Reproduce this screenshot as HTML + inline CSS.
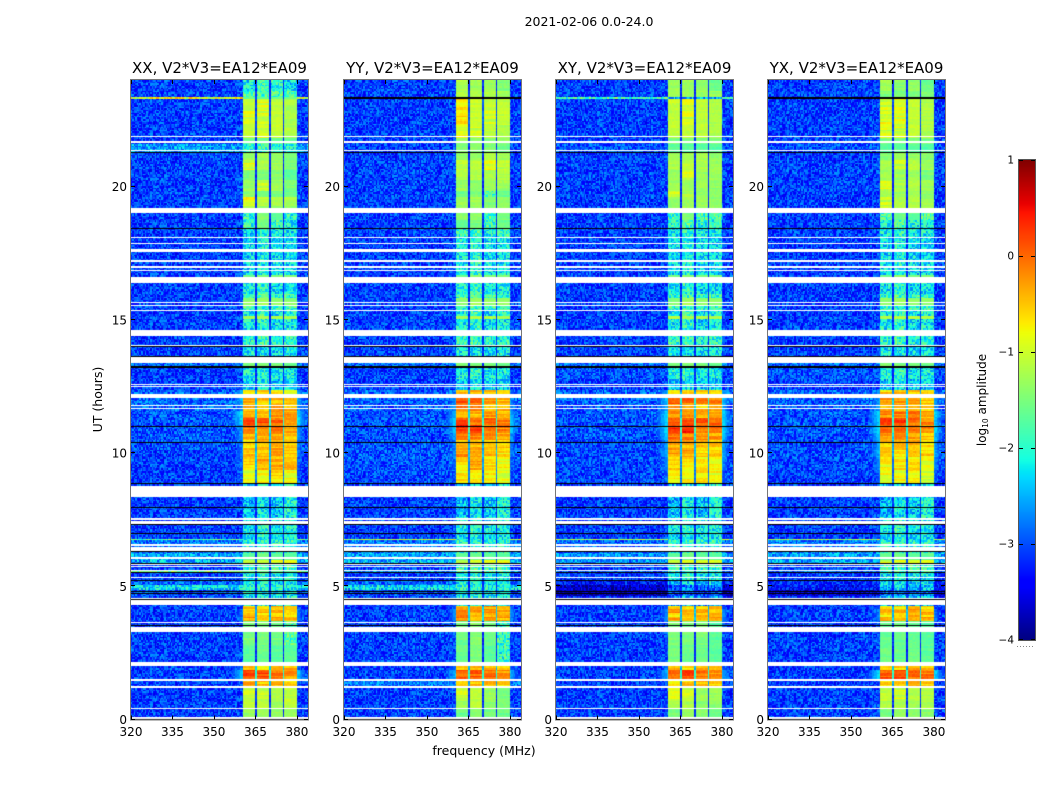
<!DOCTYPE html>
<html lang="en">
<head>
<meta charset="utf-8">
<title>2021-02-06 0.0-24.0</title>
<style>
html,body{margin:0;padding:0;background:#fff;width:1050px;height:800px;overflow:hidden}
#figure{position:relative;width:1050px;height:800px;background:#fff}
canvas{position:absolute;display:block}
svg{position:absolute;left:0;top:0}
text{font-family:"DejaVu Sans","Liberation Sans",sans-serif;fill:#000}
</style>
</head>
<body>
<div id="figure">
<canvas id="cv0" width="177" height="640" style="left:131px;top:80px"></canvas>
<canvas id="cv1" width="177" height="640" style="left:344px;top:80px"></canvas>
<canvas id="cv2" width="177" height="640" style="left:556px;top:80px"></canvas>
<canvas id="cv3" width="177" height="640" style="left:768px;top:80px"></canvas>
<canvas id="cbar" width="16" height="480" style="left:1019px;top:160px"></canvas>
<svg id="overlay" width="1050" height="800" viewBox="0 0 1050 800">
<text x="589" y="26" text-anchor="middle" font-size="12.5">2021-02-06 0.0-24.0</text>
<text x="484" y="755" text-anchor="middle" font-size="12.5">frequency (MHz)</text>
<text transform="translate(102,399.5) rotate(-90)" text-anchor="middle" font-size="12.5">UT (hours)</text>
<text transform="translate(986,400) rotate(-90)" text-anchor="middle" font-size="12">log<tspan font-size="7.5" dy="2">10</tspan><tspan dy="-2"> amplitude</tspan></text>
</svg>
</div>
<script>
const panelNames = ["XX", "YY", "XY", "YX"];
const panelTitleSuffix = ", V2*V3=EA12*EA09";
const xTicks = [320, 335, 350, 365, 380];
const yTicks = [0, 5, 10, 15, 20];
const colorTicks = [1, 0, -1, -2, -3, -4];
const freqRange = [320, 384];
const hourRange = [0, 24];
const colorRange = [-4, 1];
const bandEdges = [360.5, 365, 370.5, 375.5, 380];
const notchFreqs = [365.25, 370.25, 375.25];
const notchDepth = 2;

const hourEdges = [0,.43,.73,1.18,1.52,1.86,2.16,2.8,3.32,3.66,3.85,4,4.15,4.3,4.63,4.86,5.01,5.23,5.53,5.64,5.87,5.98,6.25,6.47,6.74,6.8,7.07,7.34,7.6,7.94,8.31,8.84,9.36,9.81,10.15,10.45,10.79,11.05,11.31,11.61,11.84,12.1,12.36,12.74,13.23,13.42,13.64,14.05,14.39,14.61,15.07,15.14,15.33,15.59,15.82,16,16.42,16.68,17.17,17.62,18.07,18.44,18.74,19.01,19.23,19.61,19.87,20.24,20.62,21,21.3,21.6,21.86,22.31,22.8,23.28,23.37,23.57,23.61,24];

const flaggedHours = [[.03,.105],[.41,.45],[1.19,1.27],[1.43,1.51],[2.02,2.17],[3.29,3.48],[3.62,3.65],[4.32,4.5],[4.52,4.56],[5.31,5.35],[5.57,5.61],[5.72,5.76],[5.8,5.83],[6.02,6.11],[6.32,6.46],[6.52,6.59],[7.34,7.46],[7.51,7.58],[8.35,8.77],[11.66,11.7],[11.75,11.79],[12.06,12.21],[12.47,12.5],[12.55,12.59],[13.39,13.61],[14.02,14.05],[14.39,14.62],[15.34,15.38],[15.52,15.57],[15.65,15.68],[16.41,16.62],[16.83,16.87],[16.96,17.02],[17.17,17.24],[17.54,17.65],[17.84,17.88],[18.07,18.11],[19.01,19.2],[21.35,21.39],[21.65,21.71],[21.84,21.88]];
const blankedHours = [[0,.03],[3.51,3.55],[4.5,4.52],[4.73,4.76],[4.79,4.82],[5.18,5.23],[5.52,5.55],[5.85,5.88],[6.28,6.32],[6.96,7],[7.3,7.34],[7.94,7.99],[8.84,8.87],[10.38,10.41],[10.98,11.01],[13.19,13.26],[13.61,13.66],[13.97,14.02],[18.41,18.44],[21.26,21.3]];

const xxLevels = [
[-3.1,-3.1,-1.3,-1.3,-1.35,-1.3],[-3.1,-3.1,-1.1,-1.1,-1.3,-1.1],[-3.1,-3.1,-1,-1,-1.2,-1.1],[-3.1,-3,-.4,-.5,-.4,-.6],
[-3.1,-2.3,.12,.12,-.05,-.25],[-3.1,-2.8,-.4,-.6,-.35,-.4],[-3.1,-3.1,-1.7,-1.6,-1.7,-1.7],[-3.1,-3.1,-1.5,-1.5,-1.6,-1.8],
[-3.1,-3.1,-1.5,-1.5,-1.6,-1.8],[-3.1,-2.6,-.3,-.5,-.4,-.35],[-3.1,-2.7,-.5,-.6,-.5,-.6],[-3.1,-2.7,-.6,-.5,-.4,-.5],
[-3.1,-3,-.5,-.6,-.45,-.6],[-3.1,-3.1,-2.2,-2,-2.2,-2.1],[-3,-3,-2.2,-2.1,-2.2,-2.2],[-2.3,-2.3,-2,-2,-2.1,-2.1],
[-2.9,-2.9,-2.2,-2.1,-2.2,-2.1],[-3.1,-3.1,-2.2,-2,-2.2,-2.1],[-1.5,-1.5,-1.6,-1.5,-1.6,-1.6],[-3.1,-3.1,-1.9,-1.8,-1.9,-1.9],
[-2.5,-2.5,-.95,-.9,-.95,-.95],[-2.6,-2.6,-1.7,-1.6,-1.7,-1.7],[-2.8,-2.8,-2,-1.9,-2,-2],[-2.8,-2.8,-2,-1.9,-2,-2],
[-1.7,-1.7,-2.2,-2,-2.2,-2.2],[-3.1,-3.1,-2.3,-2.1,-2.3,-2.2],[-3.1,-3.1,-2.2,-2,-2.2,-2.1],[-3.1,-3.1,-2.2,-2,-2.2,-2.1],
[-3.1,-3.1,-2.5,-2.2,-2.4,-2.1],[-3.1,-3.1,-2.5,-2.2,-2.4,-2.1],[-3.1,-3.1,-2.5,-2.2,-2.4,-2.1],[-3.1,-2.9,-.9,-.75,-.65,-.85],
[-3.1,-2.8,-.55,-.4,-.35,-.45],[-3.1,-2.6,-.5,-.45,-.35,-.5],[-3,-2.7,-.6,-.5,-.4,-.5],[-3,-2.5,-.35,-.4,-.35,-.5],
[-3,-2.5,-.1,-.15,-.1,-.3],[-3,-2.2,.2,.1,.05,-.2],[-3,-2.2,-.25,-.4,-.3,-.35],[-2.9,-2.6,-.4,-.45,-.35,-.4],
[-2.9,-2.4,-.45,-.5,-.45,-.55],[-2.9,-2.4,-.6,-.6,-.6,-.7],[-3.1,-3.1,-2.4,-2.2,-2.4,-2.3],[-3.1,-3.1,-2.1,-2,-2.2,-2.2],
[-2.9,-2.9,-1.5,-1.5,-1.5,-1.6],[-3.1,-3.1,-1.5,-1.5,-1.5,-1.6],[-3.1,-3.1,-2.2,-2.2,-2.3,-2.2],[-3.1,-3.1,-2,-1.9,-2.1,-2],
[-3.1,-3.1,-2,-1.9,-2.1,-2],[-3.1,-3.1,-2.2,-2,-2.3,-2.2],[-3.1,-3.1,-1.2,-1.2,-1.2,-1.2],[-3.1,-3.1,-2.3,-1.9,-2.3,-2.1],
[-3.1,-3.1,-1.9,-1.9,-1.9,-1.9],[-3.1,-3.1,-1.4,-1.3,-1.4,-1.4],[-3.1,-3.1,-1.9,-1.8,-1.9,-1.9],[-3.1,-3.1,-2.2,-2,-2.3,-2.2],
[-3.1,-3.1,-1.5,-1.4,-1.5,-1.5],[-3.1,-3.1,-2.3,-2.1,-2.3,-2.3],[-3.1,-3.1,-2.3,-2.1,-2.3,-2.3],[-3.1,-3.1,-2.3,-2.1,-2.3,-2.3],
[-3.1,-3.1,-2.3,-2,-2.2,-2.2],[-3.1,-3.1,-2,-1.5,-1.9,-2.2],[-3.1,-3.1,-2,-1.4,-1.7,-2],[-3.1,-3.1,-1.3,-1.3,-1.4,-1.4],
[-3.1,-3.1,-.85,-1.15,-1.2,-1.2],[-3.1,-3.1,-1.4,-1.5,-1.5,-1.6],[-3.1,-3.1,-1.3,-1,-1.3,-1.5],[-3.1,-3.1,-1.5,-1.5,-1.4,-1.7],
[-3.1,-3.1,-.95,-1.2,-1.3,-1.5],[-3.1,-3.1,-1.3,-1.3,-1.4,-1.5],[-2.6,-2.6,-2,-1.9,-2,-2.1],[-3.1,-3.1,-1.6,-1.6,-1.6,-1.6],
[-3.1,-3.1,-1.05,-.95,-1.05,-1.2],[-3.1,-3.1,-.95,-.95,-1.05,-1.2],[-3.1,-3.1,-1.1,-.95,-1.1,-1.2],[-.9,-.9,-1.6,-1.6,-1.6,-1.6],
[-3.1,-3.1,-1.8,-1.8,-1.8,-1.8],[-1.7,-1.7,-2.2,-2.2,-2.2,-2.2],[-3.1,-3.1,-2.2,-1.8,-2,-2.3]
];

const yyLevels = [
[-3.1,-3.1,-1.6,-1.4,-1.5,-1.6],[-3.1,-3.1,-1.3,-1.1,-1.4,-1.5],[-3.1,-3.1,-1,-1.1,-1.3,-1.5],[-2.8,-2.8,-.5,-.5,-.5,-.6],
[-3.1,-2.4,0,0,-.1,-.25],[-3.1,-2.8,-.5,-.4,-.4,-.5],[-3.1,-3.1,-1.6,-1.5,-1.7,-2],[-3.1,-3.1,-1.6,-1.4,-1.6,-1.9],
[-3.1,-3.1,-1.6,-1.4,-1.6,-1.9],[-3.1,-2.6,-.15,-.45,-.3,-.4],[-3.1,-2.6,-.3,-.4,-.3,-.5],[-3.1,-2.6,-.25,-.3,-.2,-.4],
[-3.1,-2.8,-.3,-.4,-.3,-.5],[-3.1,-3.1,-2.2,-2,-2.2,-2.1],[-3,-3,-2.2,-2.1,-2.2,-2.2],[-2.3,-2.3,-2,-2,-2.1,-2.1],
[-2.9,-2.9,-2.2,-2.1,-2.2,-2.1],[-3.1,-3.1,-2.2,-2,-2.2,-2.1],[-2.6,-2.6,-1.8,-1.7,-1.8,-1.8],[-3.1,-3.1,-1.9,-1.8,-1.9,-1.9],
[-2.5,-2.5,-.95,-.9,-.95,-.95],[-2.6,-2.6,-1.7,-1.6,-1.7,-1.7],[-2.8,-2.8,-2,-1.9,-2,-2],[-2.8,-2.8,-2,-1.9,-2,-2],
[-1.1,-1.1,-2.2,-2,-2.2,-2.2],[-3.1,-3.1,-2.3,-2.1,-2.3,-2.2],[-3.1,-3.1,-2.2,-2,-2.2,-2.1],[-3.1,-3.1,-2.2,-2,-2.2,-2.1],
[-3.1,-3.1,-2.5,-2.2,-2.4,-2.1],[-3.1,-3.1,-2.5,-2.2,-2.4,-2.1],[-3.1,-3.1,-2.5,-2.2,-2.4,-2.1],[-3.05,-2.9,-.7,-.8,-.75,-.9],
[-3,-2.8,-.6,-.35,-.65,-.85],[-3,-2.6,-.25,-.3,-.5,-.7],[-3,-2.7,-.5,-.35,-.6,-.6],[-3,-2.5,-.2,-.1,-.3,-.4],
[-3,-2.3,.25,.3,-.1,-.2],[-3,-2.3,.1,-.1,.05,-.15],[-3,-2.4,-.3,-.45,-.35,-.5],[-3,-2.6,-.1,-.2,-.4,-.4],
[-2.9,-2.6,.05,-.1,-.3,-.45],[-2.9,-2.7,-.5,-.5,-.6,-.7],[-3.1,-3.1,-2.4,-2.2,-2.4,-2.3],[-3.1,-3.1,-2.1,-2,-2.2,-2.2],
[-2.9,-2.9,-1.5,-1.5,-1.5,-1.6],[-3.1,-3.1,-1.5,-1.5,-1.5,-1.6],[-3.1,-3.1,-2.2,-2.2,-2.3,-2.2],[-3.1,-3.1,-2,-1.9,-2.1,-2],
[-3.1,-3.1,-2,-1.9,-2.1,-2],[-3.1,-3.1,-2.2,-2,-2.3,-2.2],[-3.1,-3.1,-1.2,-1.2,-1.2,-1.2],[-3.1,-3.1,-2.2,-1.9,-2.3,-2.1],
[-3.1,-3.1,-1.9,-1.9,-1.9,-1.9],[-3.1,-3.1,-1.4,-1.3,-1.4,-1.4],[-3.1,-3.1,-1.9,-1.8,-1.9,-1.9],[-3.1,-3.1,-2.1,-1.9,-2.2,-2.1],
[-3.1,-3.1,-1.5,-1.4,-1.5,-1.5],[-3.1,-3.1,-2.2,-2,-2.3,-2.2],[-3.1,-3.1,-2.2,-2,-2.3,-2.2],[-3.1,-3.1,-2.2,-2,-2.3,-2.2],
[-3.1,-3.1,-2,-1.9,-2.1,-2],[-3.1,-3.1,-1.6,-1.5,-1.9,-1.6],[-3.1,-3.1,-1.4,-1.4,-1.8,-1.5],[-3.1,-3.1,-1.3,-1.3,-1.5,-1.4],
[-3.1,-3.1,-1.3,-1.3,-1.5,-1.4],[-3.1,-3.1,-1.6,-1.5,-1.8,-1.6],[-3.1,-3.1,-1.3,-1.4,-1.3,-1.3],[-3.1,-3.1,-1.2,-1.2,-1.2,-1.2],
[-3.1,-3.1,-1.1,-1.1,-.95,-1.1],[-3.1,-3.1,-1.4,-1.3,-1.2,-1.3],[-3.1,-3.1,-1.5,-1.4,-1.5,-1.6],[-3.1,-3.1,-1.4,-1.4,-1.4,-1.4],
[-3.1,-3.1,-.85,-1,-1.1,-1.2],[-3.1,-3.1,-.65,-1.05,-1,-1.05],[-3.1,-3.1,-.7,-1.05,-1.1,-1.1],[-4.6,-4.6,-4.6,-4.6,-4.6,-4.6],
[-3.1,-3.1,-1.2,-1.2,-1.2,-1.2],[-4.6,-4.6,-4.6,-4.6,-4.6,-4.6],[-3.1,-3.1,-1.2,-1.3,-1.3,-1.5]
];

const xyLevels = [
[-3.1,-3.1,-1.5,-1.3,-1.4,-1.6],[-3.1,-3.1,-1.2,-1.2,-1.4,-1.4],[-3.1,-3.1,-1,-1,-1.3,-1.3],[-3.1,-3,-.6,-.6,-.5,-.6],
[-3.1,-2.4,.1,.1,-.15,-.25],[-3.1,-2.8,-.5,-.55,-.4,-.5],[-3.1,-3.1,-1.5,-1.6,-1.6,-1.7],[-3.1,-3.1,-1.5,-1.5,-1.5,-1.7],
[-3.1,-3.1,-1.5,-1.5,-1.5,-1.7],[-3.1,-2.6,-.3,-.4,-.4,-.4],[-3.1,-2.6,-.6,-.5,-.4,-.45],[-3.1,-2.6,-.15,-.5,-.4,-.45],
[-3.1,-2.8,-.6,-.55,-.5,-.5],[-3.2,-3.2,-2.7,-2.5,-2.7,-2.6],[-3.8,-3.8,-3,-2.9,-3,-3],[-3.7,-3.7,-3,-2.8,-3,-2.9],
[-3.3,-3.3,-2.4,-2.2,-2.4,-2.3],[-3.1,-3.1,-2.2,-2,-2.2,-2.1],[-2.9,-2.9,-1.9,-1.8,-1.9,-1.9],[-3.1,-3.1,-1.9,-1.8,-1.9,-1.9],
[-2.7,-2.7,-.95,-.9,-.95,-.95],[-2.7,-2.7,-1.7,-1.6,-1.7,-1.7],[-2.9,-2.9,-2,-1.9,-2,-2],[-2.9,-2.9,-2,-1.9,-2,-2],
[-1.3,-1.3,-2.2,-2,-2.2,-2.2],[-3.1,-3.1,-2.3,-2.1,-2.3,-2.2],[-3.1,-3.1,-2.2,-2,-2.2,-2.1],[-3.1,-3.1,-2.2,-2,-2.2,-2.1],
[-3.1,-3.1,-2.5,-2.2,-2.4,-2.1],[-3.1,-3.1,-2.5,-2.2,-2.4,-2.1],[-3.1,-3.1,-2.5,-2.2,-2.4,-2.1],[-3.05,-2.8,-.8,-.85,-.7,-.85],
[-3.05,-2.6,-.6,-.7,-.7,-.8],[-3.05,-2.4,-.3,-.3,-.5,-.6],[-3.05,-2.5,-.4,-.4,-.55,-.55],[-3,-2.3,-.1,-.15,-.3,-.3],
[-3,-2.2,.3,.35,-.05,-.1],[-3,-2.2,.1,.05,.1,.05],[-3,-2.2,-.3,-.2,-.4,-.4],[-3,-2.4,-.35,-.4,-.5,-.5],
[-2.9,-2.3,.05,-.1,-.15,-.15],[-2.9,-2.4,-.5,-.5,-.6,-.7],[-3.1,-3.1,-2.4,-2.2,-2.4,-2.3],[-3,-3,-2.1,-2,-2.2,-2.2],
[-2.9,-2.9,-1.5,-1.5,-1.5,-1.6],[-3.1,-3.1,-1.5,-1.5,-1.5,-1.6],[-3.1,-3.1,-2.2,-2.2,-2.3,-2.2],[-3.1,-3.1,-2,-1.9,-2.1,-2],
[-3.1,-3.1,-2,-1.9,-2.1,-2],[-3.1,-3.1,-2.2,-2,-2.3,-2.2],[-3.1,-3.1,-1.2,-1.2,-1.2,-1.2],[-3.1,-3.1,-2.3,-1.9,-2.3,-2.1],
[-3.1,-3.1,-1.9,-1.9,-1.9,-1.9],[-3.1,-3.1,-1.4,-1.3,-1.4,-1.4],[-3.1,-3.1,-1.9,-1.8,-1.9,-1.9],[-3.1,-3.1,-2.2,-2,-2.3,-2.2],
[-3.1,-3.1,-1.5,-1.4,-1.5,-1.5],[-3.1,-3.1,-2.3,-2.1,-2.3,-2.3],[-3.1,-3.1,-2.3,-2.1,-2.3,-2.3],[-3.1,-3.1,-2.3,-2.1,-2.3,-2.3],
[-3.1,-3.1,-2.2,-2,-2.2,-2.2],[-3.1,-3.1,-2,-1.8,-2,-2],[-3.1,-3.1,-1.9,-1.5,-1.8,-1.8],[-3.1,-3.1,-1.3,-1.3,-1.3,-1.4],
[-3.1,-3.1,-1.3,-1.3,-1.3,-1.4],[-3.1,-3.1,-1,-1.2,-1.4,-1.4],[-3.1,-3.1,-1.3,-1.3,-1.3,-1.4],[-3.1,-3.1,-1.3,-1,-1.3,-1.3],
[-3.1,-3.1,-1.2,-1.1,-1.2,-1.3],[-3.1,-3.1,-1.3,-1.3,-1.3,-1.4],[-3,-3,-1.7,-1.7,-1.7,-1.7],[-3.1,-3.1,-1.5,-1.5,-1.5,-1.5],
[-3.1,-3.1,-1.1,-1.05,-1.1,-1.2],[-3.1,-3.1,-1.1,-1,-1.1,-1.2],[-3.1,-3.1,-.9,-1,-1.1,-1.2],[-1.8,-1.8,-2.6,-2.6,-2.6,-2.6],
[-3.1,-3.1,-1.3,-1.3,-1.3,-1.3],[-3.2,-3.2,-2.8,-2.8,-2.8,-2.8],[-3.1,-3.1,-1.3,-1.3,-1.4,-1.6]
];

const yxLevels = [
[-3.1,-3.1,-1.5,-1.3,-1.4,-1.4],[-3.1,-3.1,-1.2,-1.2,-1.3,-1.2],[-3.1,-3.1,-1.1,-1,-1.2,-1.2],[-3.1,-3,-.5,-.5,-.5,-.6],
[-3.1,-2.2,.12,.1,-.1,-.1],[-3.1,-2.8,-.5,-.6,-.4,-.5],[-3.1,-3.1,-1.6,-1.6,-1.6,-1.7],[-3.1,-3.1,-1.6,-1.6,-1.6,-1.7],
[-3.1,-3.1,-1.6,-1.6,-1.6,-1.7],[-3.1,-2.7,-.2,-.4,-.4,-.4],[-3.1,-2.7,-.7,-.5,-.3,-.5],[-3.1,-2.7,-.55,-.45,-.35,-.45],
[-3.1,-2.9,-.6,-.6,-.5,-.6],[-3.2,-3.2,-2.5,-2.3,-2.5,-2.4],[-3.6,-3.6,-2.8,-2.6,-2.8,-2.8],[-3.3,-3.3,-2.5,-2.3,-2.5,-2.4],
[-3.2,-3.2,-2.3,-2.2,-2.3,-2.3],[-3.1,-3.1,-2.2,-2,-2.2,-2.1],[-2.8,-2.8,-1.9,-1.8,-1.9,-1.9],[-3.1,-3.1,-1.9,-1.8,-1.9,-1.9],
[-2.6,-2.6,-.95,-.9,-.95,-.95],[-2.6,-2.6,-1.7,-1.6,-1.7,-1.7],[-2.8,-2.8,-2,-1.9,-2,-2],[-2.8,-2.8,-2,-1.9,-2,-2],
[-1.2,-1.2,-2.2,-2,-2.2,-2.2],[-3.1,-3.1,-2.3,-2.1,-2.3,-2.2],[-3.1,-3.1,-2.2,-2,-2.2,-2.1],[-3.1,-3.1,-2.2,-2,-2.2,-2.1],
[-3.1,-3.1,-2.5,-2.2,-2.4,-2.1],[-3.1,-3.1,-2.5,-2.2,-2.4,-2.1],[-3.1,-3.1,-2.5,-2.2,-2.4,-2.1],[-3.1,-2.8,-.9,-.85,-.8,-1],
[-3.05,-2.6,-.8,-.7,-.7,-.9],[-3.05,-2.4,-.4,-.55,-.5,-.6],[-3.05,-2.5,-.5,-.5,-.4,-.6],[-3,-2.3,-.2,-.25,-.3,-.45],
[-3,-2.2,.1,.1,-.1,-.2],[-3,-2.3,.1,.2,-.05,-.2],[-3,-2.2,-.2,-.15,-.2,-.4],[-3,-2.5,-.35,-.35,-.45,-.5],
[-2.9,-2.5,-.2,-.3,-.35,-.5],[-2.9,-2.6,-.5,-.5,-.6,-.7],[-3.1,-3.1,-2.4,-2.2,-2.4,-2.3],[-3,-3,-2.1,-2,-2.2,-2.2],
[-2.9,-2.9,-1.5,-1.5,-1.5,-1.6],[-3.1,-3.1,-1.5,-1.5,-1.5,-1.6],[-3.1,-3.1,-2.2,-2.2,-2.3,-2.2],[-3.1,-3.1,-2,-1.9,-2.1,-2],
[-3.1,-3.1,-2,-1.9,-2.1,-2],[-3.1,-3.1,-2.2,-2,-2.3,-2.2],[-3.1,-3.1,-1.2,-1.2,-1.2,-1.2],[-3.1,-3.1,-2.2,-1.9,-2.3,-2.1],
[-3.1,-3.1,-1.9,-1.9,-1.9,-1.9],[-3.1,-3.1,-1.4,-1.3,-1.4,-1.4],[-3.1,-3.1,-1.9,-1.8,-1.9,-1.9],[-3.1,-3.1,-2.2,-2,-2.3,-2.2],
[-3.1,-3.1,-1.5,-1.4,-1.5,-1.5],[-3.1,-3.1,-2.3,-2.1,-2.3,-2.3],[-3.1,-3.1,-2.3,-2.1,-2.3,-2.3],[-3.1,-3.1,-2.3,-2.1,-2.3,-2.3],
[-3.1,-3.1,-2.2,-2,-2.2,-2.2],[-3.1,-3.1,-2.1,-1.8,-2.1,-2.1],[-3.1,-3.1,-1.8,-1.6,-1.7,-1.8],[-3.1,-3.1,-1,-1.2,-1.2,-1.3],
[-3.1,-3.1,-1,-1.2,-1.2,-1.3],[-3.1,-3.1,-1.2,-1.3,-1.3,-1.4],[-3.1,-3.1,-1,-1.2,-1.2,-1.3],[-3.1,-3.1,-1.3,-1.3,-1.3,-1.5],
[-3.1,-3.1,-1.2,-1,-1.1,-1.3],[-3.1,-3.1,-1.4,-1.3,-1.3,-1.4],[-3,-3,-1.7,-1.7,-1.7,-1.7],[-3.1,-3.1,-1.5,-1.5,-1.5,-1.5],
[-3.1,-3.1,-1,-1,-1.1,-1.2],[-3.1,-3.1,-.9,-.9,-1.1,-1.2],[-3.1,-3.1,-.95,-.95,-1.1,-1.2],[-4.6,-4.6,-4.6,-4.6,-4.6,-4.6],
[-3.1,-3.1,-1.5,-1.5,-1.5,-1.5],[-4.6,-4.6,-4.6,-4.6,-4.6,-4.6],[-3.1,-3.1,-1.3,-1.4,-1.4,-1.6]
];

const speckle = [.31,-.62,.84,-.17,.53,-.91,.12,.68,-.44,.95,-.29,-.73,.4,.07,-.55,.77,-.12,-.86,.59,.22,-.37,.9,-.68,.16,-.99,.47,.73,-.24,.03,-.79,.62,-.48,.36,.88,-.08,-.64,.19,.56,-.93,.28,-.33,.81,-.52,.11,.97,-.76,.44,-.2,.66,-.41,.05,-.83,.71,-.15,.34,-.58,.93,-.02,-.7,.25,.5];

const panelLevels = [xxLevels, yyLevels, xyLevels, yxLevels];
const panelLefts = [131, 344, 556, 768];
const panelTop = 80, panelWidth = 177, panelHeight = 639.5;
const channelCount = 128, timeSamples = 410;

function xScale(freq, left) { return left + (freq - freqRange[0]) * panelWidth / (freqRange[1] - freqRange[0]); }
function yScale(hour) { return panelTop + (hourRange[1] - hour) * panelHeight / (hourRange[1] - hourRange[0]); }

function jet(t) {
  t = Math.max(0, Math.min(1, t));
  function ramp(pts) {
    for (let i = 1; i < pts.length; i++) {
      if (t <= pts[i][0]) {
        const a = pts[i - 1], b = pts[i];
        return a[1] + (b[1] - a[1]) * (t - a[0]) / (b[0] - a[0]);
      }
    }
    return pts[pts.length - 1][1];
  }
  return [
    ramp([[0, 0], [.35, 0], [.66, 1], [.89, 1], [1, .5]]),
    ramp([[0, 0], [.125, 0], [.375, 1], [.64, 1], [.91, 0], [1, 0]]),
    ramp([[0, .5], [.11, 1], [.34, 1], [.65, 0], [1, 0]])
  ].map(v => Math.round(v * 255));
}

function levelColor(level) {
  if (level < -4.3) return [0, 0, 0];
  return jet((level - colorRange[0]) / (colorRange[1] - colorRange[0]));
}

function rowIndex(hour) {
  for (let i = 0; i < hourEdges.length - 1; i++) {
    if (hour >= hourEdges[i] && hour < hourEdges[i + 1]) return i;
  }
  return hourEdges.length - 2;
}

function cellLevel(freq, row, sp, stripeAt) {
  const bg = row[0], skirt = row[1];
  if (bg < -4.3) return bg;
  const noisyBg = bg + sp * (bg > -2.6 ? .6 : .5);
  if (freq < bandEdges[0]) {
    const sk = skirt - (bandEdges[0] - freq) * .2 + sp * .15;
    return freq > bandEdges[0] - 12 ? Math.max(noisyBg, sk) : noisyBg;
  }
  if (freq >= bandEdges[4]) {
    const sk = skirt - (freq - bandEdges[4]) * .25 + sp * .15;
    return Math.max(noisyBg, sk);
  }
  const avg = (row[2] + row[3] + row[4] + row[5]) / 4;
  if (notchFreqs.some(n => Math.abs(n - freq) < .2)) return Math.max(avg - notchDepth, -3.2) + sp * .15;
  let band = 3;
  for (let i = 0; i < 4; i++) {
    if (freq < bandEdges[i + 1]) { band = i; break; }
  }
  const level = row[band + 2];
  if (level < -1.75) return level + sp * .55;
  if (level < -1) return level + sp * .09 + stripeAt(band) * .08;
  return level + sp * .1 + stripeAt(band) * .22;
}

function drawSpan(ctx, span) {
  const top = Math.round(yScale(span[1]) - panelTop);
  const height = Math.max(1, Math.round(yScale(span[0]) - yScale(span[1])));
  ctx.fillRect(0, top, panelWidth, height);
}

panelLevels.forEach((levels, p) => {
  const off = document.createElement('canvas');
  off.width = channelCount;
  off.height = timeSamples;
  const octx = off.getContext('2d');
  const img = octx.createImageData(channelCount, timeSamples);
  for (let r = 0; r < timeSamples; r++) {
    const hour = hourRange[1] * (1 - (r + .5) / timeSamples);
    const row = levels[rowIndex(hour)];
    const stripeAt = band => speckle[(r * r * 3 + r * 17 + band * 23 + p * 7) % speckle.length];
    for (let c = 0; c < channelCount; c++) {
      const freq = freqRange[0] + (c + .5) * (freqRange[1] - freqRange[0]) / channelCount;
      const sp = speckle[(c * c * 3 + r * r * 7 + c * r * 11 + r * 5 + c + p * 13) % speckle.length];
      const col = levelColor(cellLevel(freq, row, sp, stripeAt));
      const k = (r * channelCount + c) * 4;
      img.data[k] = col[0];
      img.data[k + 1] = col[1];
      img.data[k + 2] = col[2];
      img.data[k + 3] = 255;
    }
  }
  octx.putImageData(img, 0, 0);
  const ctx = document.getElementById('cv' + p).getContext('2d');
  ctx.imageSmoothingEnabled = false;
  ctx.drawImage(off, 0, 0, panelWidth, panelHeight);
  ctx.fillStyle = '#000';
  blankedHours.forEach(b => drawSpan(ctx, b));
  ctx.fillStyle = '#fff';
  flaggedHours.forEach(b => drawSpan(ctx, b));
});

(function drawColorbar() {
  const ctx = document.getElementById('cbar').getContext('2d');
  for (let y = 0; y < 480; y++) {
    const level = colorRange[1] - (y + .5) * (colorRange[1] - colorRange[0]) / 480;
    const col = levelColor(level);
    ctx.fillStyle = 'rgb(' + col.join(',') + ')';
    ctx.fillRect(0, y, 16, 1);
  }
})();

const SVGNS = 'http://www.w3.org/2000/svg';
const overlay = document.getElementById('overlay');
function tickLine(parent, x1, y1, x2, y2) {
  const l = document.createElementNS(SVGNS, 'line');
  l.setAttribute('x1', x1);
  l.setAttribute('y1', y1);
  l.setAttribute('x2', x2);
  l.setAttribute('y2', y2);
  l.setAttribute('stroke', '#000');
  l.setAttribute('stroke-width', '1');
  
  
  parent.appendChild(l);
}
function label(parent, x, y, str, anchor, size) {
  const t = document.createElementNS(SVGNS, 'text');
  t.setAttribute('x', x);
  t.setAttribute('y', y);
  t.setAttribute('text-anchor', anchor);
  t.setAttribute('font-size', size);
  
  
  t.textContent = str;
  parent.appendChild(t);
}

panelLefts.forEach((left, p) => {
  const g = document.createElementNS(SVGNS, 'g');
  
  
  overlay.appendChild(g);

  const title = document.createElementNS(SVGNS, 'text');
  title.setAttribute('x', left + panelWidth / 2);
  title.setAttribute('y', 73);
  title.setAttribute('text-anchor', 'middle');
  title.setAttribute('font-size', '15');
  
  
  title.textContent = panelNames[p] + panelTitleSuffix;
  g.appendChild(title);

  const frame = document.createElementNS(SVGNS, 'rect');
  frame.setAttribute('x', left - .5);
  frame.setAttribute('y', panelTop - .5);
  frame.setAttribute('width', panelWidth + 1);
  frame.setAttribute('height', panelHeight + 1);
  frame.setAttribute('fill', 'none');
  frame.setAttribute('stroke', '#777');
  frame.setAttribute('stroke-width', '1');
  
  
  g.appendChild(frame);

  xTicks.forEach(f => {
    const x = Math.round(xScale(f, left)) + .5;
    tickLine(g, x, panelTop, x, panelTop + 4);
    tickLine(g, x, panelTop + panelHeight, x, panelTop + panelHeight - 4);
    label(g, xScale(f, left), 736, String(f), 'middle', 12);
  });
  yTicks.forEach(h => {
    const y = Math.round(yScale(h)) - .5;
    tickLine(g, left, y, left + 4, y);
    tickLine(g, left + panelWidth, y, left + panelWidth - 4, y);
    label(g, left - 4, yScale(h) + 4.5, String(h), 'end', 12);
  });
});

(function colorbarAxis() {
  const g = document.createElementNS(SVGNS, 'g');
  
  
  overlay.appendChild(g);
  const frame = document.createElementNS(SVGNS, 'rect');
  frame.setAttribute('x', 1018.5);
  frame.setAttribute('y', 159.5);
  frame.setAttribute('width', 17);
  frame.setAttribute('height', 481);
  frame.setAttribute('fill', 'none');
  frame.setAttribute('stroke', '#555');
  
  
  g.appendChild(frame);
  colorTicks.forEach(v => {
    const y = 160 + (colorRange[1] - v) * 480 / (colorRange[1] - colorRange[0]);
    const yy = Math.min(639.5, Math.round(y) + .5);
    tickLine(g, 1019, yy, 1023, yy);
    tickLine(g, 1035, yy, 1031, yy);
    label(g, 1014, y + 3.5, String(v).replace('-', '\u2212'), 'end', 10.5);
  });
  const dots = document.createElementNS(SVGNS, 'line');
  dots.setAttribute('x1', 1017);
  dots.setAttribute('y1', 646.5);
  dots.setAttribute('x2', 1035);
  dots.setAttribute('y2', 646.5);
  dots.setAttribute('stroke', '#888');
  dots.setAttribute('stroke-dasharray', '1 2');
  
  
  g.appendChild(dots);
})();
</script>
</body>
</html>
